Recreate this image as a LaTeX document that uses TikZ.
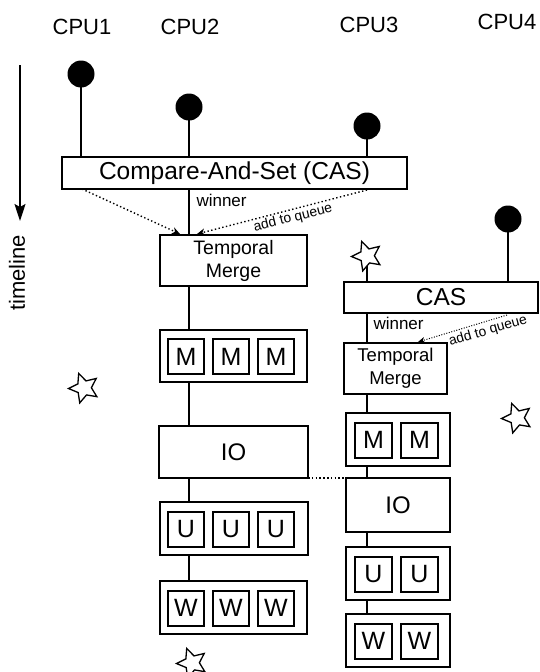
\documentclass[tikz,border=0pt]{standalone}
\usepackage{fontspec}
\setmainfont{Liberation Sans}
\usetikzlibrary{arrows.meta,shapes.geometric}
\pgfdeclarelayer{bg}
\pgfsetlayers{bg,main}
\begin{document}
\begin{tikzpicture}[x=1pt,y=-1pt,
 box/.style={draw,line width=1.8pt,inner sep=0pt,outer sep=0pt,align=center,fill=white},
 cell/.style={draw,line width=2pt,inner sep=0pt,minimum width=36pt,minimum height=35pt,font=\fontsize{25}{25}\selectfont},
 dotnode/.style={circle,fill=black,minimum size=27pt,inner sep=0pt},
 starnode/.style={star,star points=5,star point ratio=2.1,draw,line width=1.3pt,fill=white,minimum size=31pt,inner sep=0pt,rotate=20},
 link/.style={line width=1.4pt},
 dotarrow/.style={line width=1.4pt,dash pattern=on 1.4pt off 2.4pt,-{Stealth[length=8pt,width=7pt,inset=2.5pt]}},
 thindotarrow/.style={line width=1pt,dash pattern=on 1pt off 1.6pt,-{Stealth[length=7pt,width=6pt,inset=2pt]}},
 lbl/.style={font=\fontsize{22}{22}\selectfont},
 small/.style={font=\fontsize{17}{17}\selectfont},
 tiny/.style={font=\fontsize{13.8}{13.8}\selectfont},
]
\useasboundingbox (0,0) rectangle (539,672);

% column coordinates
\coordinate (colL) at (189,0);
\coordinate (colR) at (367,0);

% CPU labels
\node[lbl] (cpu1) at (82,27) {CPU1};
\node[lbl] (cpu2) at (190,27) {CPU2};
\node[lbl] (cpu3) at (369,25) {CPU3};
\node[lbl] (cpu4) at (507,22) {CPU4};

% timeline
\coordinate (tl1) at (20,65);
\coordinate (tl2) at (20,221);
\draw[line width=1.4pt,-{Stealth[length=17pt,width=11pt,inset=3pt]}] (tl1) -- (tl2);
\node[lbl,rotate=90] (tltext) at (17,273) {timeline};

% dots
\node[dotnode] (d1) at (81,74) {};
\node[dotnode] (d2) at (189,107) {};
\node[dotnode] (d3) at (367,126) {};
\node[dotnode] (d4) at (508,219) {};

% left column boxes
\node[box,minimum width=345pt,minimum height=32pt,font=\fontsize{24.5}{24.5}\selectfont] (cas1) at (234.5,173) {Compare-And-Set (CAS)};
\node[box,minimum width=147pt,minimum height=51pt,font=\fontsize{19.5}{23}\selectfont] (tm1) at (233.5,260.5) {Temporal\\Merge};
\node[box,minimum width=147pt,minimum height=52pt] (m1) at (233.5,356) {};
\node[cell] (m1a) at (186,356.5) {M};
\node[cell] (m1b) at (231,356.5) {M};
\node[cell] (m1c) at (276,356.5) {M};
\node[box,minimum width=149pt,minimum height=52pt,font=\fontsize{24}{24}\selectfont] (io1) at (233.5,452) {IO};
\node[box,minimum width=148pt,minimum height=53pt] (u1) at (234,528.5) {};
\node[cell] (u1a) at (186,529) {U};
\node[cell] (u1b) at (231,529) {U};
\node[cell] (u1c) at (276,529) {U};
\node[box,minimum width=147pt,minimum height=53pt] (w1) at (233.5,607.5) {};
\node[cell] (w1a) at (186,608) {W};
\node[cell] (w1b) at (231,608) {W};
\node[cell] (w1c) at (276,608) {W};

% right column boxes
\node[starnode] (s1) at (367,256) {};
\node[box,minimum width=194pt,minimum height=31pt,font=\fontsize{24.5}{24.5}\selectfont] (cas2) at (441,297.5) {CAS};
\node[box,minimum width=103pt,minimum height=51pt,font=\fontsize{18.5}{23}\selectfont] (tm2) at (395.5,368.5) {Temporal\\Merge};
\node[box,minimum width=104pt,minimum height=53pt] (m2) at (398,439.5) {};
\node[cell,minimum width=37pt] (m2a) at (373.5,440) {M};
\node[cell,minimum width=37pt] (m2b) at (419.5,440) {M};
\node[box,minimum width=104pt,minimum height=54pt,font=\fontsize{24}{24}\selectfont] (io2) at (398,505) {IO};
\node[box,minimum width=104pt,minimum height=53pt] (u2) at (398,573.5) {};
\node[cell,minimum width=37pt] (u2a) at (373.5,574) {U};
\node[cell,minimum width=37pt] (u2b) at (419.5,574) {U};
\node[box,minimum width=104pt,minimum height=53pt] (w2) at (398,640.5) {};
\node[cell,minimum width=37pt] (w2a) at (373.5,641) {W};
\node[cell,minimum width=37pt] (w2b) at (419.5,641) {W};

% other stars
\node[starnode] (s2) at (84,388) {};
\node[starnode] (s3) at (517,418) {};
\node[starnode] (s4) at (192,663) {};

% connectors (behind)
\begin{pgfonlayer}{bg}
\draw[link] (d1.center) -- (cas1.north -| d1);
\draw[link] (d2.center) -- (cas1.north -| d2);
\draw[link] (d3.center) -- (cas1.north -| d3);
\draw[link] (d4.center) -- (cas2.north -| d4);
\draw[link] (s1.center) -- (cas2.north -| s1);
\draw[link] (cas1.south -| colL) -- (tm1.north -| colL);
\draw[link] (tm1.south -| colL) -- (m1.north -| colL);
\draw[link] (m1.south -| colL) -- (io1.north -| colL);
\draw[link] (io1.south -| colL) -- (u1.north -| colL);
\draw[link] (u1.south -| colL) -- (w1.north -| colL);
\draw[link] (cas2.south -| colR) -- (tm2.north -| colR);
\draw[link] (tm2.south -| colR) -- (m2.north -| colR);
\draw[link] (m2.south -| colR) -- (io2.north -| colR);
\draw[link] (io2.south -| colR) -- (u2.north -| colR);
\draw[link] (u2.south -| colR) -- (w2.north -| colR);
\end{pgfonlayer}

% IO sync dotted line
\draw[line width=1.6pt,dash pattern=on 1.6pt off 2.2pt] (io1.south east) -- (io2.north west);

% labels
\node[small,anchor=west] (win1) at (193,200) {winner};
\node[small,anchor=west] (win2) at (370,323) {winner};

% dotted arrows
\coordinate (a1s) at (82,189);
\coordinate (a1e) at (180,234);
\coordinate (a2s) at (367,190);
\coordinate (a2e) at (197,234);
\coordinate (a3s) at (507,315);
\coordinate (a3e) at (418,342);
\draw[dotarrow] (a1s) -- (a1e);
\draw[dotarrow] (a2s) -- (a2e);
\draw[thindotarrow] (a3s) -- (a3e);
\node[tiny,rotate=14] (q1) at (293,218) {add to queue};
\node[tiny,rotate=16] (q2) at (488,331) {add to queue};
\end{tikzpicture}
\end{document}
